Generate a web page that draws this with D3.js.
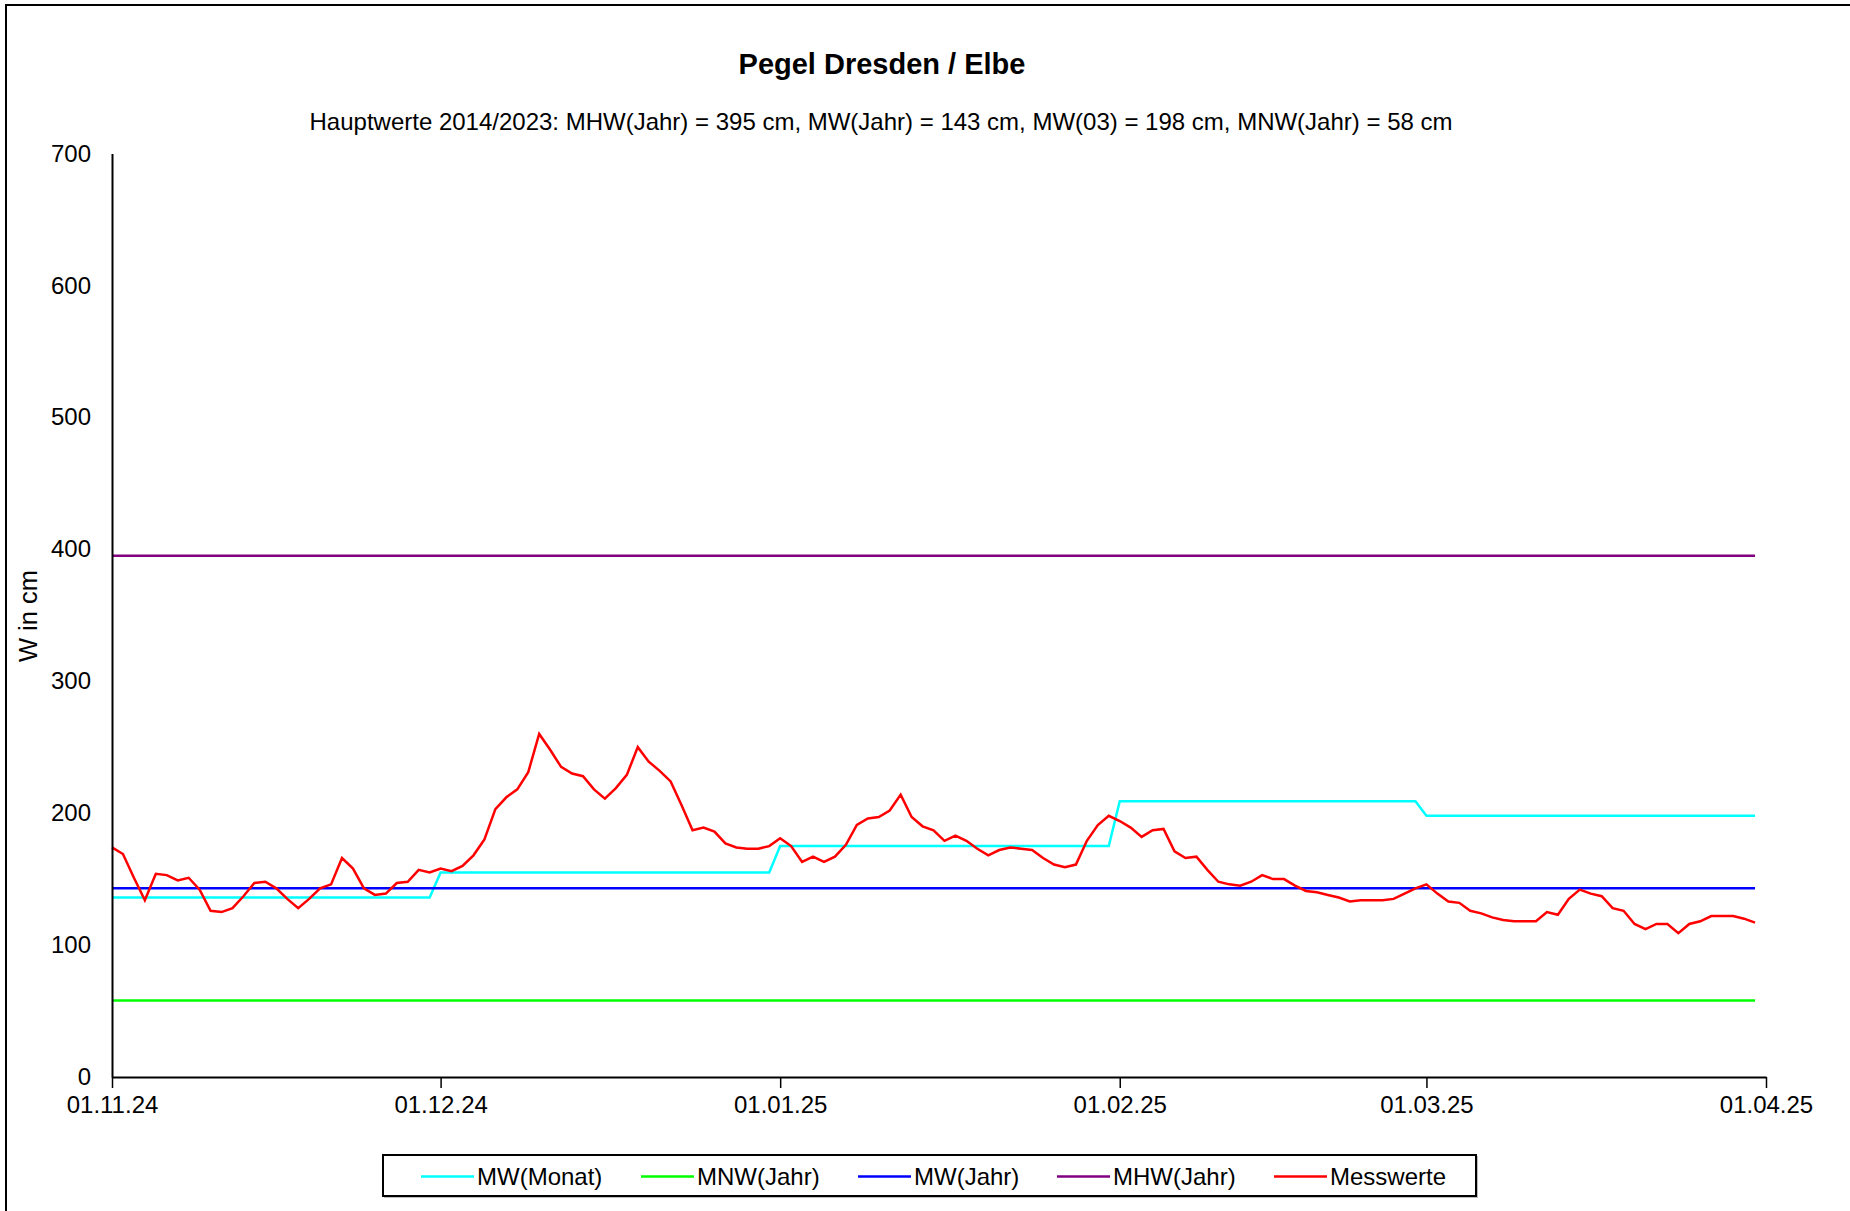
<!DOCTYPE html>
<html>
<head>
<meta charset="utf-8">
<script src="https://cdn.jsdelivr.net/npm/d3@7"></script>
<style>
  html, body { margin: 0; padding: 0; background: #fff; }
  svg { display: block; font-family: "Liberation Sans", Arial, sans-serif; }
</style>
</head>
<body>
<div class="graph-container"></div>
<script>
// DATA
const startDate = "2024-11-01";
const endDate = "2025-04-01";
const xTickLabels = ["01.11.24", "01.12.24", "01.01.25", "01.02.25", "01.03.25", "01.04.25"];
const yTicks = [0, 100, 200, 300, 400, 500, 600, 700];

// daily gauge readings 01.11.24 - 31.03.25 (cm)
const messwerte = [
  174, 169, 151, 134, 154, 153, 149, 151, 142, 126, 125, 128, 137, 147, 148,
  143, 135, 128, 135, 143, 146, 166, 158, 143, 138, 139, 147, 148, 157, 155,
  158, 156, 160, 168, 180, 203, 212, 218, 231, 260, 248, 235, 230, 228, 218,
  211, 219, 229, 250, 239, 232, 224, 206, 187, 189, 186, 177, 174, 173, 173, 175,
  181, 175, 163, 167, 163, 167, 176, 191, 196, 197, 202, 214, 197, 190, 187,
  179, 183, 179, 173, 168, 172, 174, 173, 172, 166, 161, 159, 161, 179, 191, 198,
  194, 189, 182, 187, 188, 171, 166, 167, 157, 148, 146, 145, 148, 153,
  150, 150, 145, 141, 140, 138, 136, 133, 134, 134, 134, 135, 139, 143,
  146, 139, 133, 132, 126, 124, 121, 119, 118, 118, 118, 125, 123, 135, 142,
  139, 137, 128, 126, 116, 112, 116, 116, 109, 116, 118, 122, 122, 122, 120, 117
];
// long-term monthly means (Nov, Dec, Jan, Feb, Mar)
const mwMonatMonths = [10, 11, 0, 1, 2];
const mwMonatValues = [136, 155, 175, 209, 198];
const MNW = 58;
const MW = 143;
const MHW = 395;

const seriesNames = ["MW(Monat)", "MNW(Jahr)", "MW(Jahr)", "MHW(Jahr)", "Messwerte"];
const seriesColors = ["#00ffff", "#00ff00", "#0000ff", "#800080", "#ff0000"];

// GRAPH CONSTANTS
const w = 1850;
const h = 1211;
const padLeft = 112;
const plotRight = 1766;
const padTop = 153.4;
const plotBottom = 1077;

const parse = d3.utcParse("%Y-%m-%d");
const t0 = parse(startDate);
const dates = messwerte.map((v, i) => d3.utcDay.offset(t0, i));

// SCALES
const xScale = d3.scaleUtc()
  .domain([t0, parse(endDate)])
  .range([padLeft, plotRight]);
const yScale = d3.scaleLinear()
  .domain([0, 700])
  .range([plotBottom, padTop]);

const svg = d3.select("div.graph-container")
  .append("svg")
  .attr("width", w)
  .attr("height", h);

// outer frame
svg.append("rect")
  .attr("x", 6).attr("y", 5)
  .attr("width", w + 20).attr("height", h + 20)
  .attr("fill", "none")
  .attr("stroke", "#000")
  .attr("stroke-width", 2);

// TITLES
svg.append("text")
  .attr("x", 882).attr("y", 74)
  .attr("text-anchor", "middle")
  .attr("font-size", "29px")
  .attr("font-weight", "bold")
  .text("Pegel Dresden / Elbe");
svg.append("text")
  .attr("x", 881).attr("y", 130)
  .attr("text-anchor", "middle")
  .attr("font-size", "24px")
  .text(`Hauptwerte 2014/2023: MHW(Jahr) = ${MHW} cm, MW(Jahr) = ${MW} cm, MW(03) = ${mwMonatValues[4]} cm, MNW(Jahr) = ${MNW} cm`);

// LINES
const line = d3.line()
  .x(d => xScale(d[0]))
  .y(d => yScale(d[1]));

const mwMonat = dates.map(d => [d, mwMonatValues[mwMonatMonths.indexOf(d.getUTCMonth())]]);
const flat = v => dates.map(d => [d, v]);
const seriesData = [mwMonat, flat(MNW), flat(MW), flat(MHW), dates.map((d, i) => [d, messwerte[i]])];

svg.append("g")
  .selectAll("path")
  .data(seriesData)
  .enter()
  .append("path")
  .attr("d", line)
  .attr("fill", "none")
  .attr("stroke", (d, i) => seriesColors[i])
  .attr("stroke-width", 2.5)
  .attr("stroke-linejoin", "miter");

// AXES
const xAxis = d3.axisBottom(xScale)
  .tickValues(xTickLabels.map(s => d3.utcParse("%d.%m.%y")(s)))
  .tickFormat(d3.utcFormat("%d.%m.%y"))
  .tickSize(11)
  .tickPadding(8)
  .tickSizeOuter(0);
const gx = svg.append("g")
  .attr("transform", `translate(0, ${plotBottom})`)
  .call(xAxis);
gx.select(".domain").attr("stroke-width", 2);
gx.selectAll(".tick line").attr("stroke-width", 1.5);
gx.selectAll("text")
  .attr("font-size", "24px")
  .attr("font-family", "'Liberation Sans', Arial, sans-serif")
  .attr("fill", "#000");

const yAxis = d3.axisLeft(yScale)
  .tickValues(yTicks)
  .tickSize(0)
  .tickPadding(21)
  .tickSizeOuter(0);
const gy = svg.append("g")
  .attr("transform", `translate(${padLeft}, 0)`)
  .call(yAxis);
gy.select(".domain").attr("stroke-width", 2);
gy.selectAll("text")
  .attr("font-size", "24px")
  .attr("font-family", "'Liberation Sans', Arial, sans-serif")
  .attr("fill", "#000");

svg.append("text")
  .attr("transform", "translate(37, 616) rotate(-90)")
  .attr("text-anchor", "middle")
  .attr("font-size", "25.5px")
  .text("W in cm");

// LEGEND
const legendX = [421, 641, 858, 1057, 1274];
const legend = svg.append("g");
legend.append("rect")
  .attr("x", 384).attr("y", 1156)
  .attr("width", 1094).attr("height", 42)
  .attr("fill", "#bbb");
legend.append("rect")
  .attr("x", 383).attr("y", 1155)
  .attr("width", 1093).attr("height", 41)
  .attr("fill", "#fff")
  .attr("stroke", "#000")
  .attr("stroke-width", 2);
const item = legend.selectAll("g.item")
  .data(seriesNames)
  .enter()
  .append("g")
  .attr("transform", (d, i) => `translate(${legendX[i]}, 1176.5)`);
item.append("line")
  .attr("x1", 0).attr("x2", 53)
  .attr("stroke", (d, i) => seriesColors[i])
  .attr("stroke-width", 2.5);
item.append("text")
  .attr("x", 56)
  .attr("dy", "0.35em")
  .attr("font-size", "24px")
  .text(d => d);
</script>
</body>
</html>
